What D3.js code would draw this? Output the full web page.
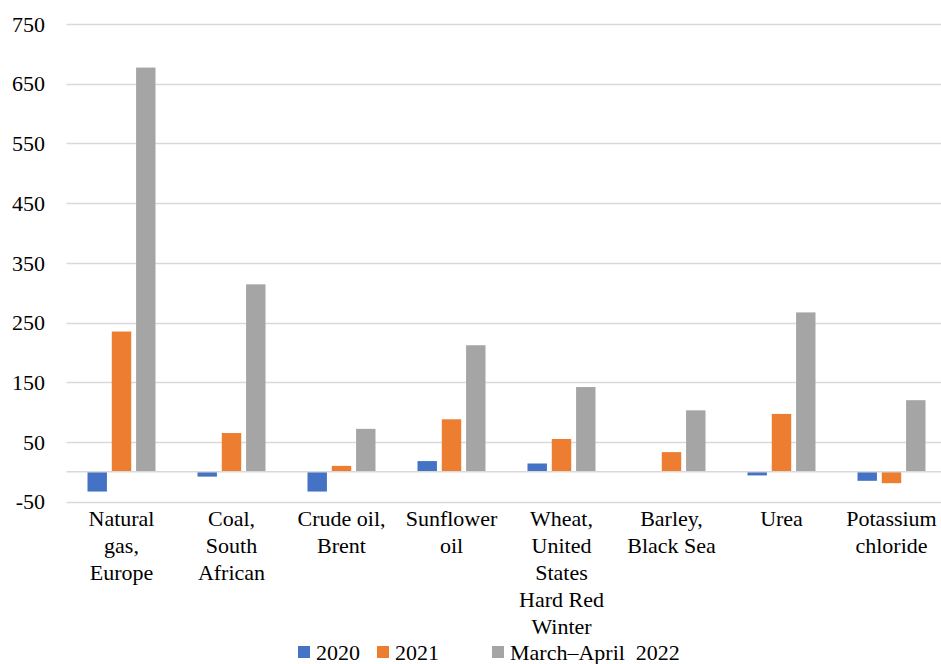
<!DOCTYPE html>
<html>
<head>
<meta charset="utf-8">
<script src="https://cdn.jsdelivr.net/npm/d3@7"></script>
<style>
  body { margin: 0; background: #fff; }
</style>
</head>
<body>
<script>
var width = 941,
    height = 664;

// data (% change in price)
var categories = ["Natural gas, Europe", "Coal, South African", "Crude oil, Brent", "Sunflower oil",
    "Wheat, United States Hard Red Winter", "Barley, Black Sea", "Urea", "Potassium chloride"];
var labelLines = [["Natural", "gas,", "Europe"], ["Coal,", "South", "African"], ["Crude oil,", "Brent"],
    ["Sunflower", "oil"], ["Wheat,", "United", "States", "Hard Red", "Winter"], ["Barley,", "Black Sea"],
    ["Urea"], ["Potassium", "chloride"]];
var seriesNames = ["2020", "2021", "March\u2013April  2022"];
var values2020 = [-33, -8, -33, 18, 14, 0, -6, -15];
var values2021 = [235, 65, 10, 88, 55, 33, 97, -19];
var valuesMarApr2022 = [677, 314, 72, 212, 142, 103, 267, 120];
var yTicks = [-50, 50, 150, 250, 350, 450, 550, 650, 750];
var colors = ["#4472C4", "#ED7D31", "#A5A5A5"];

var seriesValues = [values2020, values2021, valuesMarApr2022];
var font = "Liberation Serif, Times New Roman, serif";

var svg = d3.select("body").append("svg")
    .attr("width", width)
    .attr("height", height);

var x0 = d3.scaleBand()
    .domain(categories)
    .range([66.5, 946.5]);

var x1 = d3.scaleBand()
    .domain(seriesNames)
    .range([21, 89])
    .paddingInner(0.2);

var y = d3.scaleLinear()
    .domain([-50, 750])
    .range([501.7, 24]);

// gridlines
svg.append("g").selectAll("line")
    .data(yTicks)
    .enter().append("line")
    .attr("x1", 66.5)
    .attr("x2", width)
    .attr("y1", function (d) { return Math.round(y(d)) + 0.5; })
    .attr("y2", function (d) { return Math.round(y(d)) + 0.5; })
    .style("stroke", "#d9d9d9")
    .style("stroke-width", 1.5);

// y tick labels
svg.append("g").selectAll("text")
    .data(yTicks)
    .enter().append("text")
    .attr("x", 45)
    .attr("y", function (d) { return y(d); })
    .attr("dy", "0.35em")
    .attr("text-anchor", "end")
    .attr("font-family", font)
    .attr("font-size", 22)
    .text(function (d) { return d; });

// bars
var groups = svg.append("g").selectAll("g")
    .data(categories)
    .enter().append("g")
    .attr("transform", function (d) { return "translate(" + x0(d) + ",0)"; });

groups.selectAll("rect")
    .data(function (d, i) {
        return seriesNames.map(function (s, j) { return { series: s, idx: j, value: seriesValues[j][i] }; });
    })
    .enter().append("rect")
    .attr("x", function (d) { return x1(d.series); })
    .attr("width", x1.bandwidth())
    .attr("y", function (d) { return y(Math.max(0, d.value)); })
    .attr("height", function (d) { return Math.abs(y(d.value) - y(0)); })
    .style("fill", function (d) { return colors[d.idx]; });

// zero line
svg.append("line")
    .attr("x1", 66.5)
    .attr("x2", width)
    .attr("y1", y(0))
    .attr("y2", y(0))
    .style("stroke", "#d9d9d9")
    .style("stroke-width", 1.5);

// category labels
var labels = svg.append("g").selectAll("text")
    .data(categories)
    .enter().append("text")
    .attr("text-anchor", "middle")
    .attr("font-family", font)
    .attr("font-size", 22)
    .attr("x", function (d) { return x0(d) + x0.bandwidth() / 2; })
    .attr("y", 526);

labels.selectAll("tspan")
    .data(function (d, i) { return labelLines[i]; })
    .enter().append("tspan")
    .attr("x", function () { return this.parentNode.getAttribute("x"); })
    .attr("dy", function (d, i) { return i === 0 ? 0 : 27; })
    .text(function (d) { return d; });

// legend
var legendX = [298, 377, 492];
var legend = svg.append("g").selectAll("g")
    .data(seriesNames)
    .enter().append("g")
    .attr("transform", function (d, i) { return "translate(" + legendX[i] + ",646)"; });

legend.append("rect")
    .attr("width", 12)
    .attr("height", 12)
    .style("fill", function (d, i) { return colors[i]; });

legend.append("text")
    .attr("x", 18)
    .attr("y", 6)
    .attr("dy", "0.35em")
    .attr("font-family", font)
    .attr("font-size", 22)
    .style("white-space", "pre")
    .text(function (d) { return d; });
</script>
</body>
</html>
